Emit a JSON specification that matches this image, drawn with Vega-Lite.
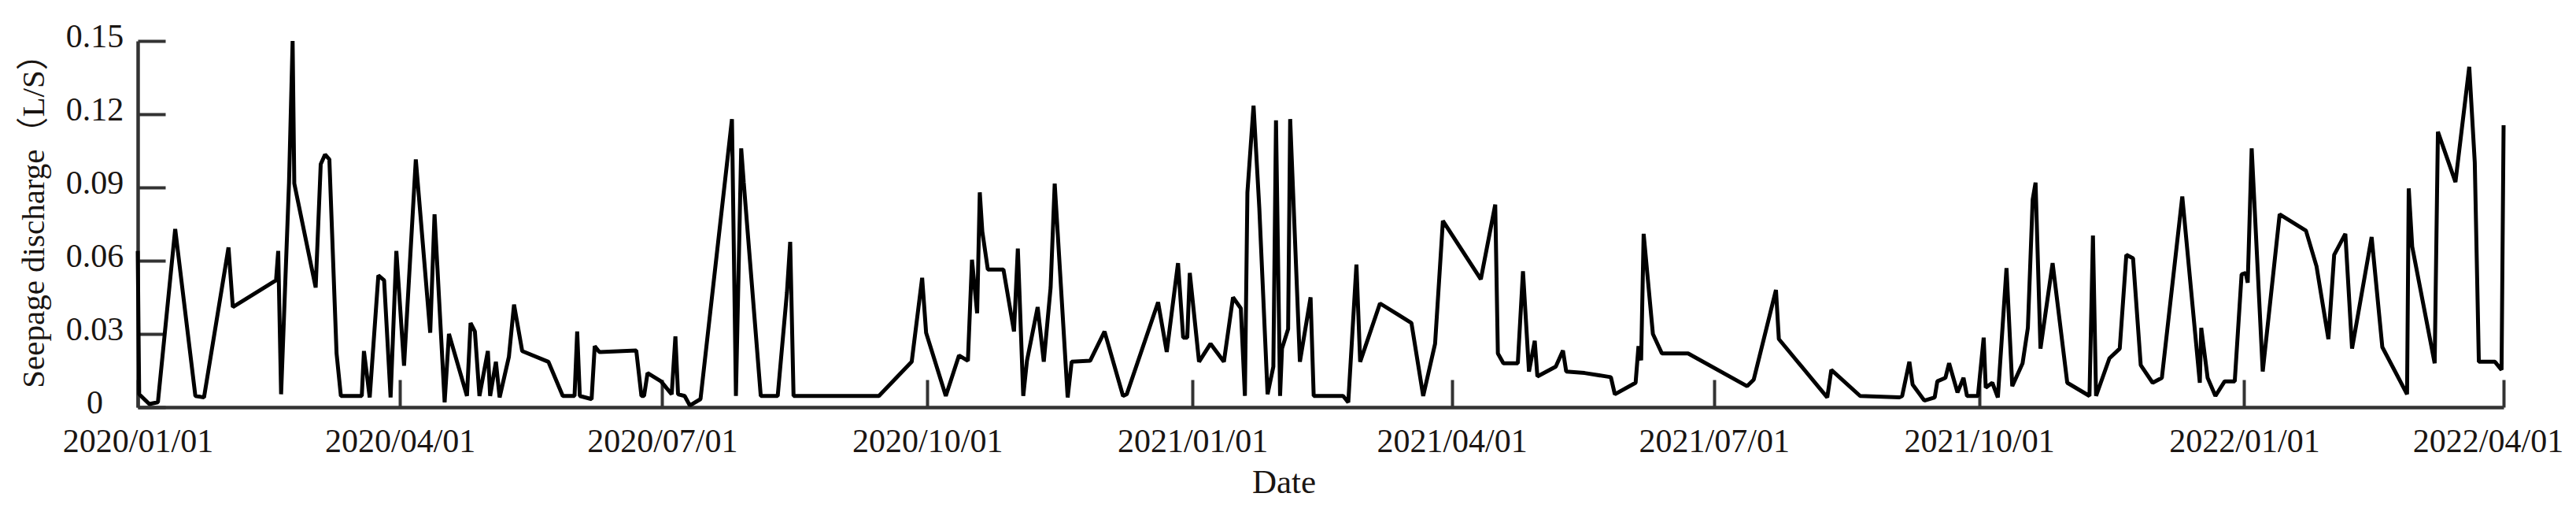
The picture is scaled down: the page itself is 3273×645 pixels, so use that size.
{
  "$schema": "https://vega.github.io/schema/vega-lite/v6.json",
  "autosize": {"type": "none"},
  "padding": {"left": 175, "top": 52, "right": 92, "bottom": 128},
  "width": 3006,
  "height": 465,
  "background": "white",
  "config": {"view": {"stroke": null}},
  "data": {"values": [
    {"date":"2020-01-01T00:00","q":0.064},{"date":"2020-01-01T12:00","q":0.0053},{"date":"2020-01-05T00:00","q":0.0013},{"date":"2020-01-08T00:00","q":0.002},{"date":"2020-01-14T00:00","q":0.073},{"date":"2020-01-21T00:00","q":0.0046},{"date":"2020-01-24T00:00","q":0.004},{"date":"2020-02-01T12:00","q":0.0654},{"date":"2020-02-03T00:00","q":0.041},{"date":"2020-02-18T00:00","q":0.052},{"date":"2020-02-18T18:00","q":0.064},{"date":"2020-02-19T18:00","q":0.0053},{"date":"2020-02-22T12:00","q":0.092},{"date":"2020-02-23T18:00","q":0.15},{"date":"2020-02-24T08:00","q":0.0916},{"date":"2020-03-02T18:00","q":0.049},{"date":"2020-03-04T12:00","q":0.0995},{"date":"2020-03-06T00:00","q":0.1035},{"date":"2020-03-07T12:00","q":0.1015},{"date":"2020-03-09T08:00","q":0.043},{"date":"2020-03-10T00:00","q":0.022},{"date":"2020-03-11T12:00","q":0.0046},{"date":"2020-03-18T18:00","q":0.0046},{"date":"2020-03-19T12:00","q":0.023},{"date":"2020-03-21T12:00","q":0.004},{"date":"2020-03-24T12:00","q":0.054},{"date":"2020-03-26T12:00","q":0.052},{"date":"2020-03-28T18:00","q":0.004},{"date":"2020-03-30T18:00","q":0.064},{"date":"2020-04-02T10:00","q":0.017},{"date":"2020-04-06T12:00","q":0.1015},{"date":"2020-04-11T12:00","q":0.0305},{"date":"2020-04-13T00:00","q":0.079},{"date":"2020-04-16T12:00","q":0.002},{"date":"2020-04-18T00:00","q":0.03},{"date":"2020-04-24T06:00","q":0.0046},{"date":"2020-04-25T12:00","q":0.0345},{"date":"2020-04-27T00:00","q":0.031},{"date":"2020-04-28T14:00","q":0.0046},{"date":"2020-05-01T12:00","q":0.023},{"date":"2020-05-02T07:00","q":0.0046},{"date":"2020-05-04T07:00","q":0.0186},{"date":"2020-05-05T14:00","q":0.004},{"date":"2020-05-08T19:00","q":0.0206},{"date":"2020-05-10T14:00","q":0.042},{"date":"2020-05-13T10:00","q":0.023},{"date":"2020-05-22T12:00","q":0.0186},{"date":"2020-05-27T12:00","q":0.0046},{"date":"2020-05-31T14:00","q":0.0046},{"date":"2020-06-01T12:00","q":0.031},{"date":"2020-06-02T10:00","q":0.0046},{"date":"2020-06-06T12:00","q":0.0033},{"date":"2020-06-07T14:00","q":0.025},{"date":"2020-06-09T05:00","q":0.0226},{"date":"2020-06-22T00:00","q":0.0232},{"date":"2020-06-23T19:00","q":0.0046},{"date":"2020-06-24T17:00","q":0.0046},{"date":"2020-06-25T22:00","q":0.014},{"date":"2020-06-30T14:00","q":0.0106},{"date":"2020-07-04T07:00","q":0.0053},{"date":"2020-07-05T14:00","q":0.029},{"date":"2020-07-06T12:00","q":0.0053},{"date":"2020-07-08T19:00","q":0.0046},{"date":"2020-07-10T14:00","q":0.0007},{"date":"2020-07-14T07:00","q":0.0033},{"date":"2020-07-25T05:00","q":0.118},{"date":"2020-07-26T14:00","q":0.0046},{"date":"2020-07-28T10:00","q":0.106},{"date":"2020-07-29T07:00","q":0.092},{"date":"2020-08-04T05:00","q":0.0046},{"date":"2020-08-10T02:00","q":0.0046},{"date":"2020-08-13T07:00","q":0.047},{"date":"2020-08-14T10:00","q":0.0677},{"date":"2020-08-15T14:00","q":0.0046},{"date":"2020-09-14T05:00","q":0.0046},{"date":"2020-09-25T14:00","q":0.0186},{"date":"2020-09-29T05:00","q":0.053},{"date":"2020-09-30T14:00","q":0.0305},{"date":"2020-10-07T10:00","q":0.0046},{"date":"2020-10-12T00:00","q":0.0212},{"date":"2020-10-15T02:00","q":0.019},{"date":"2020-10-16T12:00","q":0.0604},{"date":"2020-10-18T07:00","q":0.0385},{"date":"2020-10-19T05:00","q":0.088},{"date":"2020-10-20T02:00","q":0.072},{"date":"2020-10-22T00:00","q":0.0564},{"date":"2020-10-27T10:00","q":0.0564},{"date":"2020-10-31T02:00","q":0.031},{"date":"2020-11-01T10:00","q":0.065},{"date":"2020-11-03T07:00","q":0.0046},{"date":"2020-11-04T14:00","q":0.019},{"date":"2020-11-08T07:00","q":0.041},{"date":"2020-11-10T10:00","q":0.0186},{"date":"2020-11-12T19:00","q":0.049},{"date":"2020-11-14T05:00","q":0.0916},{"date":"2020-11-18T17:00","q":0.004},{"date":"2020-11-20T02:00","q":0.0186},{"date":"2020-11-26T12:00","q":0.019},{"date":"2020-12-01T12:00","q":0.031},{"date":"2020-12-07T22:00","q":0.0046},{"date":"2020-12-09T05:00","q":0.0053},{"date":"2020-12-20T02:00","q":0.043},{"date":"2020-12-23T02:00","q":0.0226},{"date":"2020-12-27T00:00","q":0.059},{"date":"2020-12-28T19:00","q":0.0285},{"date":"2020-12-30T05:00","q":0.0285},{"date":"2020-12-31T02:00","q":0.055},{"date":"2021-01-03T07:00","q":0.0186},{"date":"2021-01-07T07:00","q":0.026},{"date":"2021-01-11T22:00","q":0.0186},{"date":"2021-01-15T02:00","q":0.045},{"date":"2021-01-17T19:00","q":0.0405},{"date":"2021-01-19T05:00","q":0.0046},{"date":"2021-01-20T02:00","q":0.088},{"date":"2021-01-22T05:00","q":0.1235},{"date":"2021-01-24T05:00","q":0.0816},{"date":"2021-01-27T02:00","q":0.0053},{"date":"2021-01-29T02:00","q":0.0166},{"date":"2021-01-30T00:00","q":0.1175},{"date":"2021-01-31T10:00","q":0.0046},{"date":"2021-02-01T02:00","q":0.024},{"date":"2021-02-03T05:00","q":0.032},{"date":"2021-02-03T22:00","q":0.118},{"date":"2021-02-07T07:00","q":0.0186},{"date":"2021-02-11T00:00","q":0.045},{"date":"2021-02-12T02:00","q":0.0046},{"date":"2021-02-22T07:00","q":0.0046},{"date":"2021-02-24T02:00","q":0.002},{"date":"2021-02-26T22:00","q":0.0584},{"date":"2021-02-28T05:00","q":0.0186},{"date":"2021-03-07T02:00","q":0.0425},{"date":"2021-03-18T00:00","q":0.0345},{"date":"2021-03-22T02:00","q":0.0046},{"date":"2021-03-26T05:00","q":0.026},{"date":"2021-03-28T22:00","q":0.0763},{"date":"2021-04-11T02:00","q":0.0524},{"date":"2021-04-16T02:00","q":0.083},{"date":"2021-04-17T00:00","q":0.022},{"date":"2021-04-18T22:00","q":0.018},{"date":"2021-04-23T22:00","q":0.018},{"date":"2021-04-25T17:00","q":0.0557},{"date":"2021-04-27T19:00","q":0.0146},{"date":"2021-04-29T19:00","q":0.0272},{"date":"2021-04-30T17:00","q":0.0126},{"date":"2021-05-07T02:00","q":0.0166},{"date":"2021-05-09T14:00","q":0.0232},{"date":"2021-05-10T17:00","q":0.0146},{"date":"2021-05-17T02:00","q":0.014},{"date":"2021-05-26T05:00","q":0.0123},{"date":"2021-05-27T14:00","q":0.0053},{"date":"2021-06-03T19:00","q":0.01},{"date":"2021-06-04T19:00","q":0.025},{"date":"2021-06-05T17:00","q":0.0192},{"date":"2021-06-06T14:00","q":0.071},{"date":"2021-06-09T19:00","q":0.03},{"date":"2021-06-12T22:00","q":0.022},{"date":"2021-06-22T00:00","q":0.022},{"date":"2021-07-12T12:00","q":0.0086},{"date":"2021-07-14T19:00","q":0.0113},{"date":"2021-07-22T12:00","q":0.048},{"date":"2021-07-23T12:00","q":0.0279},{"date":"2021-08-09T07:00","q":0.004},{"date":"2021-08-10T17:00","q":0.0153},{"date":"2021-08-20T17:00","q":0.0046},{"date":"2021-09-03T07:00","q":0.004},{"date":"2021-09-04T07:00","q":0.0046},{"date":"2021-09-06T19:00","q":0.0186},{"date":"2021-09-07T22:00","q":0.0093},{"date":"2021-09-12T00:00","q":0.0027},{"date":"2021-09-15T14:00","q":0.004},{"date":"2021-09-16T12:00","q":0.0106},{"date":"2021-09-19T07:00","q":0.012},{"date":"2021-09-20T14:00","q":0.018},{"date":"2021-09-23T12:00","q":0.006},{"date":"2021-09-25T14:00","q":0.012},{"date":"2021-09-26T19:00","q":0.0046},{"date":"2021-09-30T14:00","q":0.0046},{"date":"2021-10-02T14:00","q":0.0285},{"date":"2021-10-03T07:00","q":0.008},{"date":"2021-10-05T14:00","q":0.01},{"date":"2021-10-07T12:00","q":0.004},{"date":"2021-10-10T12:00","q":0.057},{"date":"2021-10-12T12:00","q":0.0086},{"date":"2021-10-16T02:00","q":0.018},{"date":"2021-10-17T22:00","q":0.0325},{"date":"2021-10-19T14:00","q":0.085},{"date":"2021-10-20T14:00","q":0.092},{"date":"2021-10-22T07:00","q":0.024},{"date":"2021-10-26T12:00","q":0.059},{"date":"2021-10-31T14:00","q":0.01},{"date":"2021-11-08T07:00","q":0.0046},{"date":"2021-11-09T12:00","q":0.0703},{"date":"2021-11-10T14:00","q":0.0046},{"date":"2021-11-15T05:00","q":0.02},{"date":"2021-11-18T19:00","q":0.024},{"date":"2021-11-21T02:00","q":0.0624},{"date":"2021-11-23T10:00","q":0.061},{"date":"2021-11-26T02:00","q":0.0172},{"date":"2021-11-30T05:00","q":0.01},{"date":"2021-12-03T10:00","q":0.012},{"date":"2021-12-10T12:00","q":0.0863},{"date":"2021-12-16T14:00","q":0.01},{"date":"2021-12-17T02:00","q":0.0325},{"date":"2021-12-19T07:00","q":0.012},{"date":"2021-12-22T00:00","q":0.0046},{"date":"2021-12-25T05:00","q":0.0106},{"date":"2021-12-28T17:00","q":0.0106},{"date":"2021-12-31T02:00","q":0.0544},{"date":"2022-01-01T12:00","q":0.055},{"date":"2022-01-02T05:00","q":0.051},{"date":"2022-01-03T14:00","q":0.106},{"date":"2022-01-07T10:00","q":0.0146},{"date":"2022-01-13T07:00","q":0.079},{"date":"2022-01-22T10:00","q":0.0723},{"date":"2022-01-26T02:00","q":0.0577},{"date":"2022-01-30T05:00","q":0.0279},{"date":"2022-02-01T05:00","q":0.0624},{"date":"2022-02-05T02:00","q":0.071},{"date":"2022-02-07T10:00","q":0.024},{"date":"2022-02-14T05:00","q":0.0697},{"date":"2022-02-17T22:00","q":0.0246},{"date":"2022-02-26T12:00","q":0.0053},{"date":"2022-02-27T02:00","q":0.0896},{"date":"2022-02-28T07:00","q":0.0657},{"date":"2022-03-08T02:00","q":0.018},{"date":"2022-03-09T05:00","q":0.1128},{"date":"2022-03-15T07:00","q":0.0922},{"date":"2022-03-20T02:00","q":0.1394},{"date":"2022-03-22T00:00","q":0.1002},{"date":"2022-03-23T10:00","q":0.0186},{"date":"2022-03-29T00:00","q":0.0186},{"date":"2022-03-31T07:00","q":0.0153},{"date":"2022-04-01T00:00","q":0.1155}
  ]},
  "mark": {"type": "line", "color": "#000000", "strokeWidth": 5, "strokeJoin": "bevel", "clip": false},
  "encoding": {
    "x": {
      "field": "date", "type": "temporal",
      "scale": {"domain": [{"year": 2020, "month": 1, "date": 1}, {"year": 2022, "month": 4, "date": 1}], "nice": false},
      "axis": {
        "values": [
          {"year": 2020, "month": 1, "date": 1}, {"year": 2020, "month": 4, "date": 1}, {"year": 2020, "month": 7, "date": 1}, {"year": 2020, "month": 10, "date": 1},
          {"year": 2021, "month": 1, "date": 1}, {"year": 2021, "month": 4, "date": 1}, {"year": 2021, "month": 7, "date": 1}, {"year": 2021, "month": 10, "date": 1},
          {"year": 2022, "month": 1, "date": 1}, {"year": 2022, "month": 4, "date": 1}
        ],
        "format": "%Y/%m/%d",
        "grid": false,
        "domainColor": "#333333", "domainWidth": 4.5,
        "tickColor": "#333333", "tickWidth": 4, "tickSize": -35,
        "labelFont": "Liberation Serif", "labelFontSize": 42, "labelColor": "#1a1512",
        "labelAngle": 0, "labelBaseline": "top", "labelPadding": 58, "labelLimit": 0,
        "labelOffset": {"condition": {"test": "year(datum.value) == 2022 && month(datum.value) == 3", "value": -20}, "value": 0},
        "labelOverlap": false, "labelBound": false, "labelFlush": false,
        "title": "Date", "titleFont": "Liberation Serif", "titleFontSize": 43, "titleFontWeight": "normal", "titleColor": "#1a1512",
        "titleX": 1456, "titleY": 108, "titleAlign": "center", "titleBaseline": "alphabetic"
      }
    },
    "y": {
      "field": "q", "type": "quantitative",
      "scale": {"domain": [0, 0.15], "nice": false, "zero": true},
      "axis": {
        "values": [0, 0.03, 0.06, 0.09, 0.12, 0.15],
        "labelExpr": "datum.value == 0 ? '0' : format(datum.value, '.2f')",
        "grid": false,
        "domainColor": "#333333", "domainWidth": 4.5,
        "tickColor": "#333333", "tickWidth": 4, "tickSize": -35,
        "labelFont": "Liberation Serif", "labelFontSize": 42, "labelColor": "#1a1512",
        "labelAlign": "center", "labelBaseline": "middle", "labelPadding": 90, "labelOffset": -6, "labelLimit": 0,
        "labelOverlap": false, "labelBound": false, "labelFlush": false,
        "title": "Seepage discharge（L/S）", "titleFont": "Liberation Serif, Noto Sans CJK SC", "titleFontSize": 41, "titleFontWeight": "normal", "titleColor": "#1a1512",
        "titleAngle": -90, "titleX": -120, "titleY": 218, "titleAlign": "center", "titleBaseline": "alphabetic"
      }
    }
  }
}
